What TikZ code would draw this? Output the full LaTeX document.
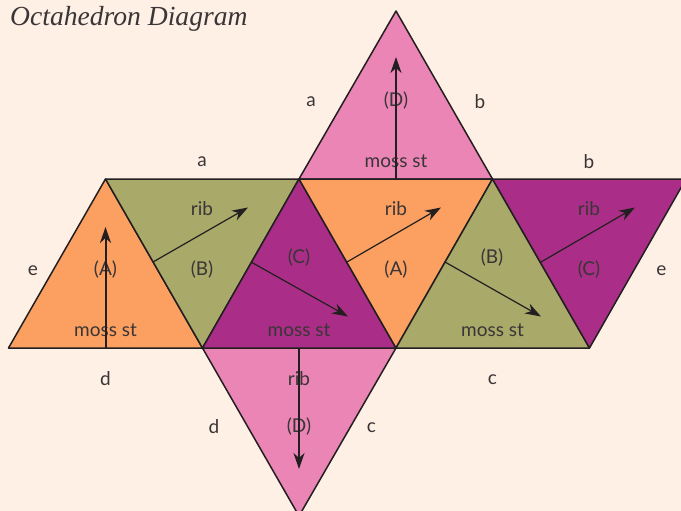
\documentclass[tikz,border=0pt]{standalone}
\usepackage{fontspec}
\setmainfont{Lato}
\newfontfamily\titlefont{Liberation Serif}
\usetikzlibrary{arrows.meta}
\definecolor{bgc}{HTML}{FFF0E6}
\definecolor{inkc}{HTML}{231F20}
\definecolor{txtc}{HTML}{3A3536}
\definecolor{orangec}{HTML}{FBA060}
\definecolor{olivec}{HTML}{A9A96A}
\definecolor{purplec}{HTML}{AA2E87}
\definecolor{pinkc}{HTML}{EB85B6}
\tikzset{
  facet/.style={draw=inkc,line width=1.5pt,line join=round},
  lbl/.style={inner sep=0pt,text=txtc,font=\fontsize{19}{21}\selectfont,anchor=center,yshift=-1.3pt},
  yarn/.style={draw=inkc,line width=1.2pt,-{Stealth[length=16pt,width=11pt,inset=5pt]}},
  yarnv/.style={draw=inkc,line width=2pt,-{Stealth[length=16pt,width=11pt,inset=5pt]}}
}
\begin{document}
\begin{tikzpicture}[x=1pt,y=-1pt]
\useasboundingbox (0,0) rectangle (681,511);
\clip (0,0) rectangle (681,511);
\fill[bgc] (0,0) rectangle (681,511);
% vertices
\coordinate (T) at (396,11);
\coordinate (U1) at (105.5,179);
\coordinate (U2) at (299,179);
\coordinate (U3) at (492.5,179);
\coordinate (U4) at (686,179);
\coordinate (L0) at (8.5,348);
\coordinate (L1) at (202.5,348);
\coordinate (L2) at (396,348);
\coordinate (L3) at (589.5,348);
\coordinate (B) at (299,516);
% facets
\path[facet,fill=pinkc] (U2) -- (T) -- (U3) -- cycle;
\path[facet,fill=pinkc] (L1) -- (L2) -- (B) -- cycle;
\path[facet,fill=orangec] (L0) -- (U1) -- (L1) -- cycle;
\path[facet,fill=olivec] (U1) -- (U2) -- (L1) -- cycle;
\path[facet,fill=purplec] (L1) -- (U2) -- (L2) -- cycle;
\path[facet,fill=orangec] (U2) -- (U3) -- (L2) -- cycle;
\path[facet,fill=olivec] (L2) -- (U3) -- (L3) -- cycle;
\path[facet,fill=purplec] (U3) -- (U4) -- (L3) -- cycle;
% arrow ends
\coordinate (a1s) at (105.5,348); \coordinate (a1e) at (105.5,227);
\coordinate (a2s) at (153,262);   \coordinate (a2e) at (248,207.5);
\coordinate (a3s) at (251,262);   \coordinate (a3e) at (348,316.5);
\coordinate (a4s) at (347,262);   \coordinate (a4e) at (441,207.5);
\coordinate (a5s) at (445,262);   \coordinate (a5e) at (541,316.5);
\coordinate (a6s) at (541,262);   \coordinate (a6e) at (635,207.5);
\coordinate (a7s) at (396,179);   \coordinate (a7e) at (396,57);
\coordinate (a8s) at (299,348);   \coordinate (a8e) at (299,469);
% labels under the arrows
\node[lbl] (ta) at (105.5,268) {(A)};
\node[lbl] (tb) at (202,268) {(B)};
\node[lbl] (tc) at (299,256) {(C)};
\node[lbl] (tA) at (396,268) {(A)};
\node[lbl] (tB) at (492,256) {(B)};
\node[lbl] (tC) at (589,268) {(C)};
\node[lbl] (tD) at (396,99) {(D)};
\node[lbl] (td) at (299,425) {(D)};
\node[lbl] (m1) at (105.5,328.5) {moss st};
\node[lbl] (m2) at (299,328.5) {moss st};
\node[lbl] (m3) at (492.5,328.5) {moss st};
\node[lbl] (m4) at (396,160) {moss st};
\node[lbl] (r1) at (202,207) {rib};
\node[lbl] (r2) at (396,207) {rib};
\node[lbl] (r3) at (589,207) {rib};
\node[lbl] (r4) at (299,377) {rib};
% arrows
\draw[yarnv] (a1s) -- (a1e);
\draw[yarn] (a2s) -- (a2e);
\draw[yarn] (a3s) -- (a3e);
\draw[yarn] (a4s) -- (a4e);
\draw[yarn] (a5s) -- (a5e);
\draw[yarn] (a6s) -- (a6e);
\draw[yarnv] (a7s) -- (a7e);
\draw[yarnv] (a8s) -- (a8e);
% edge letters
\node[lbl] (e1) at (202,160) {a};
\node[lbl] (e2) at (311,100) {a};
\node[lbl] (e3) at (480,100) {b};
\node[lbl] (e4) at (589,160) {b};
\node[lbl] (e5) at (33,269) {e};
\node[lbl] (e6) at (661.5,269) {e};
\node[lbl] (e7) at (105.5,377) {d};
\node[lbl] (e8) at (492.5,378) {c};
\node[lbl] (e9) at (214,425) {d};
\node[lbl] (e10) at (371.5,426) {c};
% title
\node[anchor=base west,inner sep=0pt,text=txtc,font=\titlefont\itshape\fontsize{27.6}{30}\selectfont] (title) at (10,26) {Octahedron Diagram};
\end{tikzpicture}
\end{document}
